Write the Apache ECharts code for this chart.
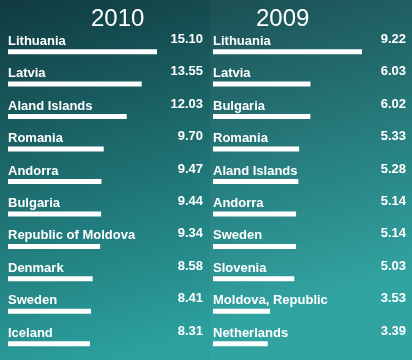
<!DOCTYPE html>
<html><head><meta charset="utf-8">
<script src="https://cdn.jsdelivr.net/npm/echarts@6/dist/echarts.min.js"></script>
<style>html,body{margin:0;padding:0;background:#1b5f63}#c{width:412px;height:360px}</style>
</head><body><div id="c"></div>
<script>
var titleLeft = '2010';
var titleRight = '2009';
var countries2010 = ['Lithuania','Latvia','Aland Islands','Romania','Andorra','Bulgaria','Republic of Moldova','Denmark','Sweden','Iceland'];
var values2010 = [15.10,13.55,12.03,9.70,9.47,9.44,9.34,8.58,8.41,8.31];
var countries2009 = ['Lithuania','Latvia','Bulgaria','Romania','Aland Islands','Andorra','Sweden','Slovenia','Moldova, Republic','Netherlands'];
var values2009 = [9.22,6.03,6.02,5.33,5.28,5.14,5.14,5.03,3.53,3.39];

var FONT = 'Liberation Sans';
function panel(idx, names, vals, valOffset) {
  return [
    {
      type:'bar', xAxisIndex:idx, yAxisIndex:idx, data:vals, barWidth:5,
      itemStyle:{color:'#ffffff'}, silent:true,
      label:{show:true, position:[0,-1.5], align:'left', verticalAlign:'bottom',
        color:'#ffffff', fontFamily:FONT, fontWeight:'bold', fontSize:13,
        formatter:function(p){return names[p.dataIndex];}}
    },
    {
      type:'bar', xAxisIndex:idx, yAxisIndex:idx, data:vals, barWidth:5, barGap:'-100%',
      itemStyle:{color:'rgba(0,0,0,0)'}, silent:true,
      label:{show:true, position:[valOffset,-3.5], align:'right', verticalAlign:'bottom',
        color:'#ffffff', fontFamily:FONT, fontWeight:'bold', fontSize:13,
        formatter:function(p){return vals[p.dataIndex].toFixed(2);}}
    }
  ];
}
var chart = echarts.init(document.getElementById('c'), null, {renderer:'canvas'});
var gridTop = 35.4, gridH = 332;
chart.setOption({
  animation:false,
  backgroundColor:{type:'linear',x:0,y:0,x2:0.25,y2:1,colorStops:[{offset:0,color:'#103a40'},{offset:1,color:'#2ba09e'}]},
  graphic:[{type:'rect',left:210,top:0,shape:{width:202,height:360},style:{fill:'rgba(255,255,255,0.03)'},z:-1}],
  title:[
    {text:titleLeft,left:86,top:2,textStyle:{color:'#fff',fontFamily:'Liberation Sans',fontWeight:'normal',fontSize:24}},
    {text:titleRight,left:251,top:2,textStyle:{color:'#fff',fontFamily:'Liberation Sans',fontWeight:'normal',fontSize:24}}
  ],
  grid:[
    {left:8,top:gridTop,width:149,height:gridH},
    {left:213,top:gridTop,width:149,height:gridH}
  ],
  xAxis:[
    {gridIndex:0,type:'value',min:0,max:'dataMax',show:false},
    {gridIndex:1,type:'value',min:0,max:'dataMax',show:false}
  ],
  yAxis:[
    {gridIndex:0,type:'category',data:countries2010,inverse:true,show:false},
    {gridIndex:1,type:'category',data:countries2009,inverse:true,show:false}
  ],
  series:[].concat(panel(0,countries2010,values2010,195), panel(1,countries2009,values2009,193))
});
</script></body></html>
